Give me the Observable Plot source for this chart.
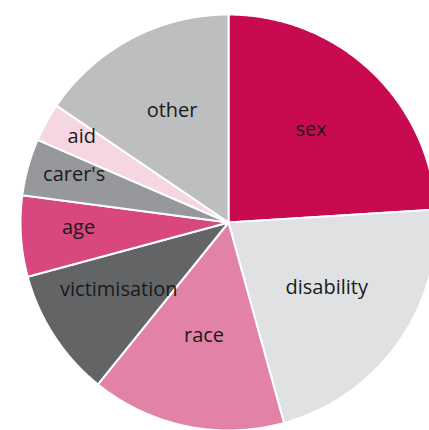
<!DOCTYPE html>
<html>
<head>
<meta charset="utf-8">
<script src="https://cdn.jsdelivr.net/npm/d3@7"></script>
<script src="https://cdn.jsdelivr.net/npm/@observablehq/plot@0.6"></script>
<style>
  html, body { margin: 0; padding: 0; background: #fff; }
  #chart { width: 429px; height: 430px; overflow: hidden; }
</style>
</head>
<body>
<div id="chart"></div>
<script>
// Data (clockwise from 12 o'clock), percent share
const categories = ["sex", "disability", "race", "victimisation", "age", "carer's", "aid", "other"];
const shares = [24.0, 21.7, 15.1, 10.0, 6.3, 4.4, 3.0, 15.5];
const colors = ["#c80a50", "#e0e1e3", "#e282a6", "#636466", "#d8487e", "#97989b", "#f6d6e2", "#bdbec0"];

// Layout
const W = 429, H = 430;
const cx = 228, cy = 222, R = 208;

const total = d3.sum(shares);
let acc = 0;
const slices = categories.map((c, i) => {
  const a0 = acc / total * 2 * Math.PI;
  acc += shares[i];
  const a1 = acc / total * 2 * Math.PI;
  return {label: c, share: shares[i] / total, a0, a1};
});

// Polygon vertices in unit-circle coordinates (y up), derived from the data
const pts = [];
for (const s of slices) {
  pts.push({label: s.label, x: 0, y: 0});
  const n = Math.max(2, Math.ceil((s.a1 - s.a0) / (Math.PI / 360)));
  for (let k = 0; k <= n; k++) {
    const a = s.a0 + (s.a1 - s.a0) * k / n;
    pts.push({label: s.label, x: Math.sin(a), y: Math.cos(a)});
  }
}

const labels = slices.map(s => {
  const m = (s.a0 + s.a1) / 2;
  const r = 0.58 + 0.3 * (1 - Math.min(1, s.share / 0.12));
  return {label: s.label, x: r * Math.sin(m), y: r * Math.cos(m)};
});

const plot = Plot.plot({
  width: W,
  height: H,
  margin: 0,
  x: {domain: [-cx / R, (W - cx) / R], axis: null},
  y: {domain: [-(H - cy) / R, cy / R], axis: null},
  color: {domain: categories, range: colors},
  style: {fontFamily: "'Open Sans', sans-serif", background: "white"},
  marks: [
    Plot.line(pts, {x: "x", y: "y", z: "label", fill: "label", stroke: "white", strokeWidth: 2, curve: "linear-closed", clip: true}),
    Plot.text(labels, {x: "x", y: "y", text: "label", fontSize: 20, dy: -5, fill: "#1a1a1a"})
  ]
});
document.getElementById("chart").appendChild(plot);
</script>
</body>
</html>
